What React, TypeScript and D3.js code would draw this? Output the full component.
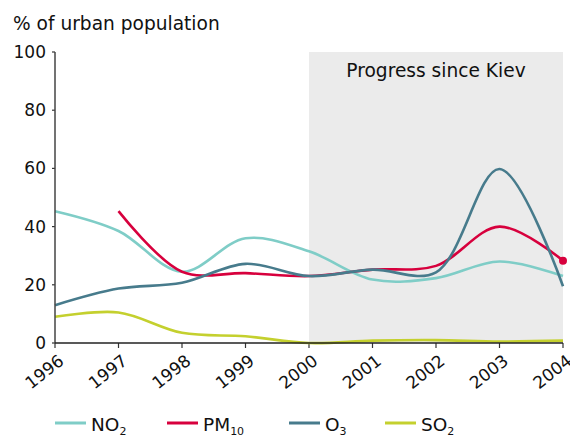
import React from "react";
import * as d3 from "d3";

const years = [1996, 1997, 1998, 1999, 2000, 2001, 2002, 2003, 2004];
const no2 = [45.3, 38.5, 24.5, 36, 31.5, 21.8, 22.3, 28, 23];
const pm10Years = [1997, 1998, 1999, 2000, 2001, 2002, 2003, 2004];
const pm10 = [45.3, 24.5, 24, 23, 25.2, 26.5, 40, 28.3];
const o3 = [13, 18.7, 20.7, 27.2, 23, 25.2, 24.3, 59.8, 19.5];
const so2 = [9, 10.5, 3.5, 2.3, 0, 0.8, 1, 0.5, 0.8];
const yTicks = [0, 20, 40, 60, 80, 100];

const FONT = "'DejaVu Sans', Verdana, sans-serif";
const C_NO2 = "#7fcdc7";
const C_PM = "#d7003d";
const C_O3 = "#477b8c";
const C_SO2 = "#c4d02e";

export default function App() {
  const W = 570, H = 437;
  const x = d3.scaleLinear().domain([1996, 2004]).range([55, 563]);
  const y = d3.scaleLinear().domain([0, 100]).range([343, 52]);
  const line = d3
    .line<[number, number]>()
    .x((d) => x(d[0]))
    .y((d) => y(d[1]))
    .curve(d3.curveCatmullRom.alpha(0.5));
  const series = [
    { name: "NO", sub: "2", color: C_NO2, xs: years, vs: no2 },
    { name: "O", sub: "3", color: C_O3, xs: years, vs: o3 },
    { name: "PM", sub: "10", color: C_PM, xs: pm10Years, vs: pm10 },
    { name: "SO", sub: "2", color: C_SO2, xs: years, vs: so2 },
  ];
  const drawOrder = [series[3], series[0], series[2], series[1]];
  const legend = [
    { s: series[0], x: 55 },
    { s: series[2], x: 167 },
    { s: series[1], x: 289 },
    { s: series[3], x: 385 },
  ];
  return (
    <svg
      width={W}
      height={H}
      style={{ position: "absolute", left: 0, top: 0, background: "#fff" }}
      fontFamily={FONT}
    >
      <rect
        x={x(2000)}
        y={y(100)}
        width={x(2004) - x(2000)}
        height={y(0) - y(100)}
        fill="#ebebeb"
      />
      <text x={(x(2000) + x(2004)) / 2} y={77} fontSize={18.6} textAnchor="middle" fill="#111">
        Progress since Kiev
      </text>
      <text x={13} y={30} fontSize={18.6} fill="#111">
        % of urban population
      </text>
      {yTicks.map((t) => (
        <g key={t}>
          <line x1={52} x2={55} y1={y(t)} y2={y(t)} stroke="#333" strokeWidth={1.2} />
          <text x={46} y={y(t) + 6} fontSize={17} textAnchor="end" fill="#111">
            {t}
          </text>
        </g>
      ))}
      {years.map((yr) => (
        <g key={yr}>
          <line x1={x(yr)} x2={x(yr)} y1={343} y2={348} stroke="#333" strokeWidth={1.2} />
          <text
            transform={`translate(${x(yr) + 10},${363}) rotate(-38)`}
            fontSize={17}
            textAnchor="end"
            fill="#111"
          >
            {yr}
          </text>
        </g>
      ))}
      {drawOrder.map((s) => (
        <path
          key={s.name + s.sub}
          d={line(s.xs.map((v, i) => [v, s.vs[i]] as [number, number])) || ""}
          fill="none"
          stroke={s.color}
          strokeWidth={2.6}
        />
      ))}
      <circle cx={x(2004)} cy={y(pm10[pm10.length - 1])} r={4} fill={C_PM} />
      <line x1={55} x2={55} y1={y(100)} y2={y(0)} stroke="#444" strokeWidth={1.5} />
      <line x1={55} x2={563} y1={y(0)} y2={y(0)} stroke="#222" strokeWidth={1.5} />
      {legend.map(({ s, x: lx }) => (
        <g key={s.name + s.sub}>
          <line x1={lx} x2={lx + 31} y1={423} y2={423} stroke={s.color} strokeWidth={3} />
          <text x={lx + 36} y={431} fontSize={18.5} fill="#111">
            {s.name}
            <tspan fontSize={11} dy={4}>
              {s.sub}
            </tspan>
          </text>
        </g>
      ))}
    </svg>
  );
}
